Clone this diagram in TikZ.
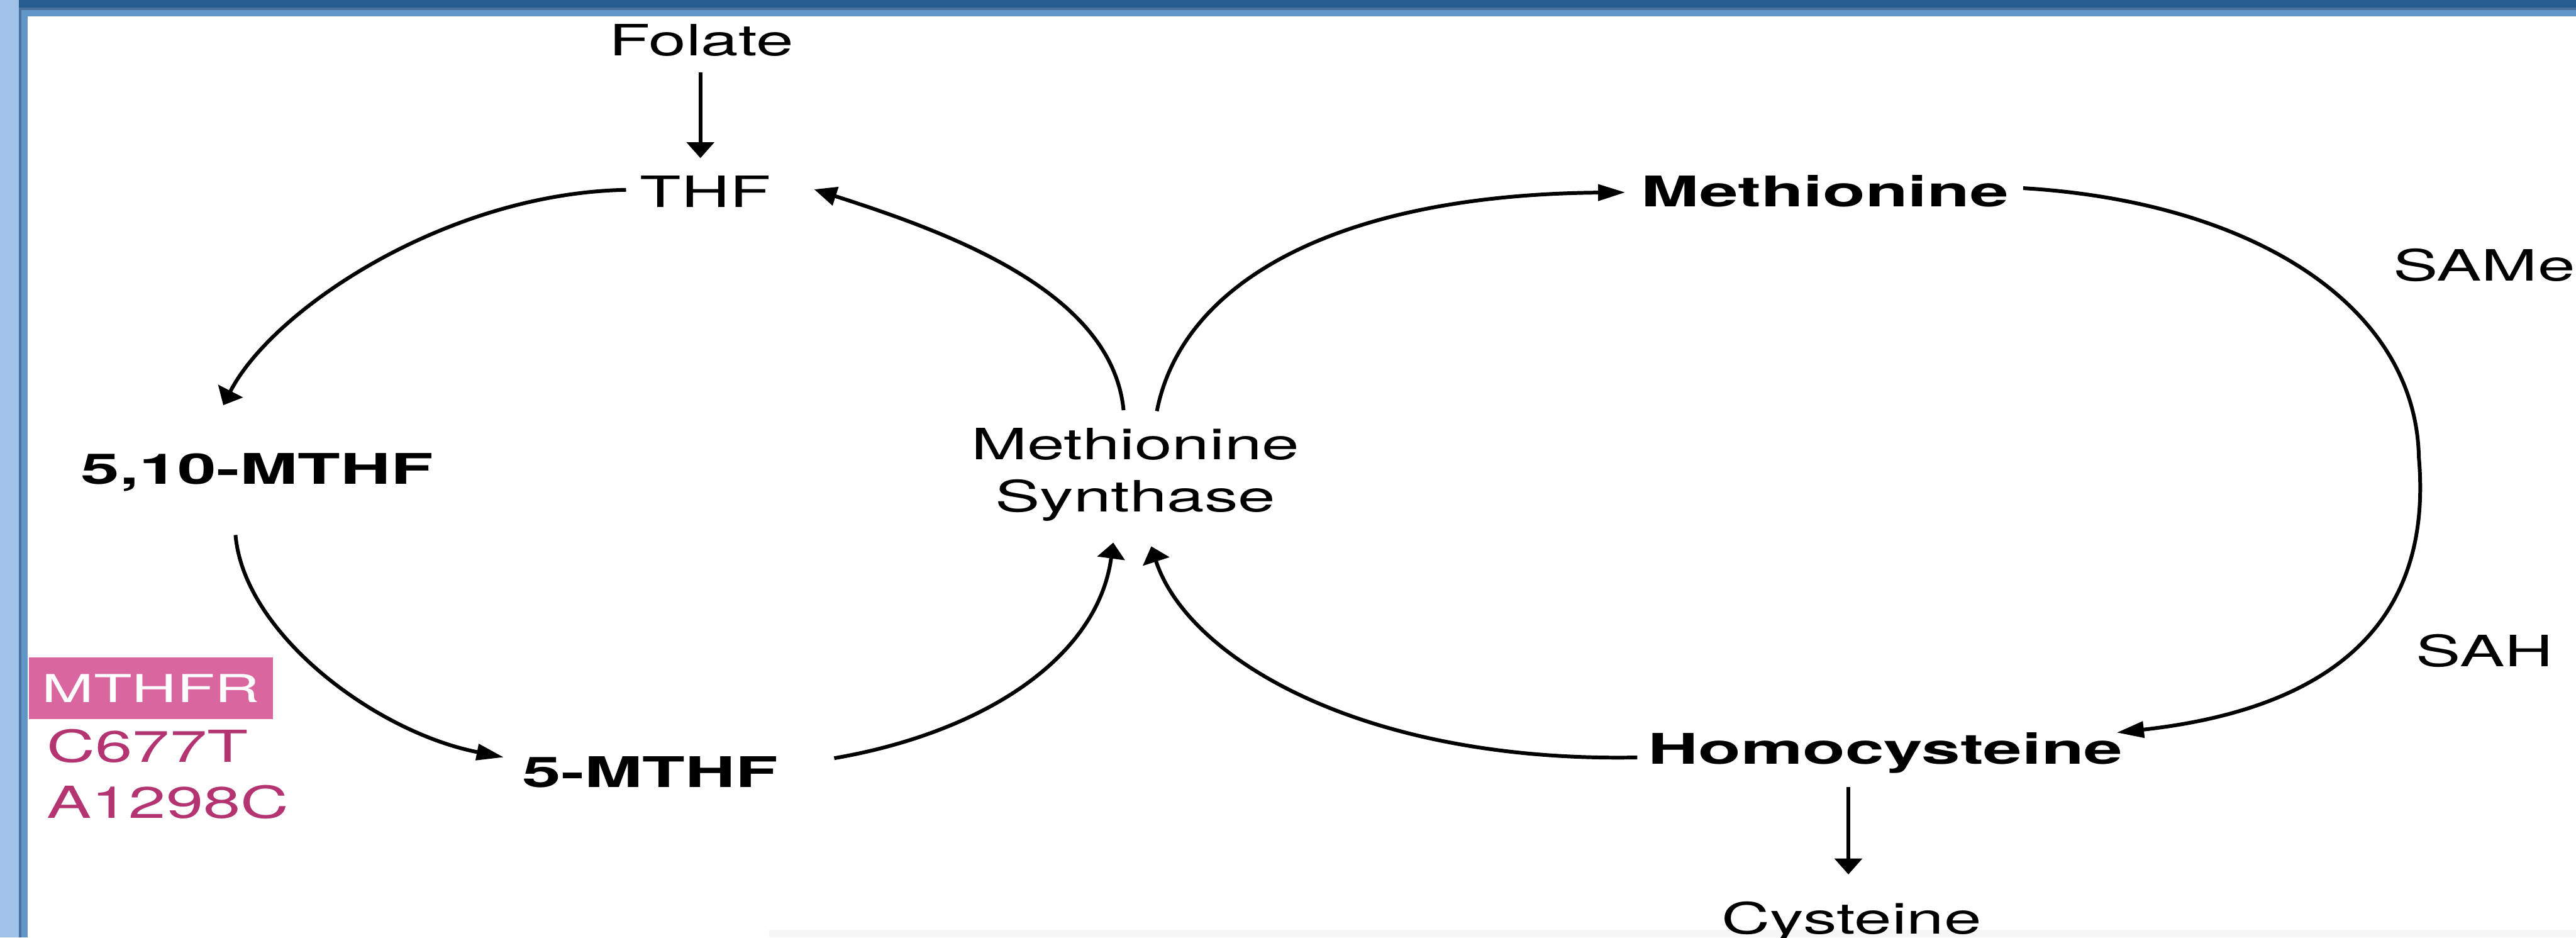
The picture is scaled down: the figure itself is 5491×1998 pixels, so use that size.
\documentclass[tikz,border=0pt]{standalone}
\usepackage{fontspec}
\setmainfont{TeX Gyre Heros}[FakeStretch=1.56]
\newfontfamily\boldfam{TeX Gyre Heros}[FakeStretch=1.65]
\newfontfamily\boxfam{TeX Gyre Heros}[FakeStretch=1.62]
\newfontfamily\varfam{TeX Gyre Heros}[FakeStretch=1.52]
\usetikzlibrary{arrows.meta,calc}
\definecolor{stripL}{RGB}{160,194,232}
\definecolor{stripD}{RGB}{74,112,156}
\definecolor{stripM}{RGB}{96,150,200}
\definecolor{barD}{RGB}{38,93,142}
\definecolor{pinkbox}{RGB}{218,102,160}
\definecolor{magtext}{RGB}{180,52,114}
\definecolor{greyband}{RGB}{246,246,246}
\begin{document}
\begin{tikzpicture}[x=0.1pt,y=-0.1pt,
  lbl/.style={inner sep=0pt, anchor=base, font=\fontsize{9.2}{11.2}\selectfont},
  blbl/.style={inner sep=0pt, anchor=base, font=\boldfam\bfseries\fontsize{9}{11}\selectfont},
  varlbl/.style={inner sep=0pt, anchor=base west, text=magtext, font=\varfam\fontsize{9.4}{11}\selectfont},
  conn/.style={line width=0.8pt, draw=black},
  vtip/.style={-{Triangle[length=3.4pt,width=5.8pt]}},
  mtip/.style={-{Triangle[length=4.8pt,width=4pt]}},
  htip/.style={-{Triangle[length=5.8pt,width=3.4pt]}}]
\useasboundingbox (0,0) rectangle (5491,1998);
% frame
\fill[white] (0,0) rectangle (5491,1998);
\fill[greyband] (1640,1981) rectangle (5491,1998);
\fill[stripL] (0,0) rectangle (40,1998);
\fill[barD] (40,0) rectangle (5491,16);
\fill[stripD] (40,16) rectangle (5491,21);
\fill[stripD] (40,16) rectangle (46,1998);
\fill[stripM] (46,21) rectangle (5491,35);
\fill[stripM] (46,21) rectangle (59,1998);

% nodes
\node[lbl] (folate) at (1495,119) {Folate};
\node[lbl] (thf) at (1504,442) {THF};
\node[blbl] (m510) at (548,1031) {5,10-MTHF};
\node[blbl] (m5) at (1386,1678) {5-MTHF};
\node[lbl, anchor=north, align=center] (ms) at (2420,910) {Methionine\\Synthase};
\node[blbl] (met) at (3890,441) {Methionine};
\node[blbl] (homo) at (4019,1628) {Homocysteine};
\node[lbl] (cys) at (3947,1990) {Cysteine};
\node[lbl, anchor=base west] (same) at (5099,599) {SAMe};
\node[lbl, anchor=base west] (sah) at (5148,1420) {SAH};
\node[anchor=north west, inner sep=0pt, fill=pinkbox, text=white,
      minimum width=52pt, minimum height=13.1pt,
      font=\boxfam\fontsize{8.2}{10}\selectfont] (mthfr) at (60,1399) {MTHFR};
\node[varlbl] (c677) at (98,1624) {C677T};
\node[varlbl] (a1298) at (98,1743) {A1298C};
\coordinate (kink) at (5156,975);

% connectors
\draw[conn, vtip] ($(folate.south)+(-2,32)$) -- ($(thf.north)+(-11,-36)$);
\draw[conn, vtip] ($(thf.west)+(-28,-4)$) .. controls (950,412) and (580,660) .. ($(m510.north)+(-72,-100)$);
\draw[conn, htip] ($(m510.base)+(-46,109)$) .. controls (520,1350) and (800,1560) .. ($(m5.west)+(-38,-32)$);
\draw[conn, vtip] ($(m5.east)+(118,-30)$) .. controls (2100,1560) and (2340,1400) .. ($(ms.south)+(-47,43)$);
\draw[conn, vtip] ($(homo.base west)+(-21,-14)$) .. controls (2900,1625) and (2530,1400) .. ($(ms.south)+(34,51)$);
\draw[conn, mtip] ($(ms.north)+(-25,-36)$) .. controls (2370,620) and (2020,495) .. ($(thf.east)+(90,-5)$);
\draw[conn, htip] ($(ms.north)+(46,-34)$) .. controls (2520,600) and (2850,415) .. ($(met.west)+(-32,2)$);
\draw[conn, htip] ($(met.east)+(29,-7)$) .. controls (4800,430) and (5150,650) .. (kink)
   .. controls (5180,1250) and (5060,1500) .. ($(homo.base east)+(-15,-67)$);
\draw[conn, vtip] ($(homo.base)+(-79,49)$) -- ($(cys.north)+(-7,-56)$);
\end{tikzpicture}
\end{document}
